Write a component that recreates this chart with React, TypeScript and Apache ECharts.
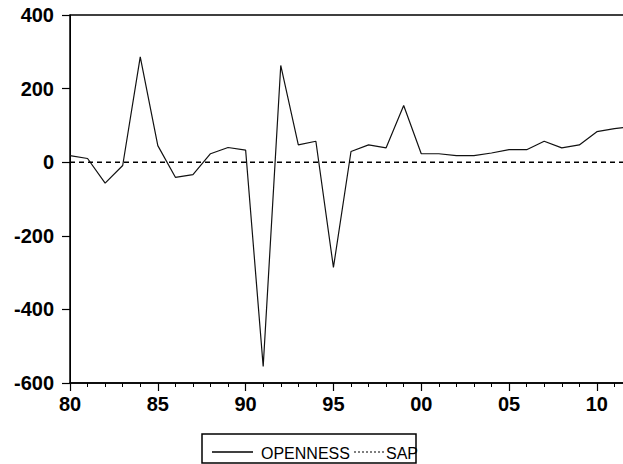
import React, { useEffect, useRef } from "react";
import * as echarts from "echarts";

const years = [
  1980, 1981, 1982, 1983, 1984, 1985, 1986, 1987, 1988, 1989,
  1990, 1991, 1992, 1993, 1994, 1995, 1996, 1997, 1998, 1999,
  2000, 2001, 2002, 2003, 2004, 2005, 2006, 2007, 2008, 2009,
  2010, 2011, 2012,
];
const openness = [
  18, 10, -57, -9, 286, 45, -41, -34, 23, 40,
  33, -555, 263, 47, 57, -286, 29, 47, 39, 154,
  23, 23, 18, 18, 25, 34, 34, 57, 39, 47,
  83, 91, 97,
];
const sap = [
  0, 0, 0, 0, 0, 0, 0, 0, 0, 0,
  0, 0, 0, 0, 0, 0, 0, 0, 0, 0,
  0, 0, 0, 0, 0, 0, 0, 0, 0, 0,
  0, 0, 0,
];
const yTicks = [-600, -400, -200, 0, 200, 400];
const legendNames = ["OPENNESS", "SAP"];

export default function App() {
  const ref = useRef<HTMLDivElement>(null);
  useEffect(() => {
    if (!ref.current) return;
    const chart = echarts.init(ref.current, null, { renderer: "svg" });
    const font = "'Liberation Sans', Arial, sans-serif";
    chart.setOption({
      animation: false,
      backgroundColor: "#fff",
      grid: {
        left: 70,
        top: 15,
        bottom: 81,
        right: 28,
        show: true,
        borderColor: "#000",
        borderWidth: 1.5,
      },
      xAxis: {
        type: "value",
        min: 1980,
        max: 2012,
        interval: 5,
        axisLine: { show: true, onZero: false, lineStyle: { color: "#000", width: 1.5 } },
        axisTick: { show: true, length: 8, lineStyle: { color: "#000", width: 1.2 } },
        minorTick: { show: true, splitNumber: 5, length: 4, lineStyle: { color: "#000", width: 1 } },
        splitLine: { show: false },
        axisLabel: {
          margin: 11,
          color: "#000",
          fontFamily: font,
          fontWeight: "bold",
          fontSize: 20,
          showMaxLabel: false,
          formatter: (v: number) => String(v % 100).padStart(2, "0"),
        },
      },
      yAxis: {
        type: "value",
        min: yTicks[0],
        max: yTicks[yTicks.length - 1],
        interval: 200,
        axisLine: { show: true, onZero: false, lineStyle: { color: "#000", width: 1 } },
        axisTick: { show: true, length: 8, lineStyle: { color: "#000", width: 1.2 } },
        splitLine: { show: false },
        axisLabel: {
          margin: 16,
          color: "#000",
          fontFamily: font,
          fontWeight: "bold",
          fontSize: 20,
        },
      },
      graphic: [
        {
          type: "rect",
          shape: { x: 202, y: 434, width: 214, height: 29 },
          style: { fill: "#fff", stroke: "#000", lineWidth: 1.5 },
        },
        {
          type: "line",
          shape: { x1: 212, y1: 452, x2: 253, y2: 452 },
          style: { stroke: "#000", lineWidth: 1.5 },
        },
        {
          type: "text",
          x: 261,
          y: 453,
          style: {
            text: legendNames[0],
            fill: "#000",
            font: "16px 'Liberation Sans', Arial, sans-serif",
            textVerticalAlign: "middle",
          },
        },
        {
          type: "line",
          shape: { x1: 354, y1: 452, x2: 384, y2: 452 },
          style: { stroke: "#000", lineWidth: 1.2, lineDash: [2, 2] },
        },
        {
          type: "text",
          x: 386,
          y: 453,
          style: {
            text: legendNames[1],
            fill: "#000",
            font: "16px 'Liberation Sans', Arial, sans-serif",
            textVerticalAlign: "middle",
          },
        },
      ],
      series: [
        {
          name: "OPENNESS",
          type: "line",
          data: years.map((y, i) => [y, openness[i]]),
          symbol: "none",
          lineStyle: { color: "#111", width: 1.2 },
          itemStyle: { color: "#111" },
        },
        {
          name: "SAP",
          type: "line",
          data: years.map((y, i) => [y, sap[i]]),
          symbol: "none",
          lineStyle: { color: "#000", width: 1.6, type: [5, 4] },
          itemStyle: { color: "#000" },
        },
      ],
    });
    return () => chart.dispose();
  }, []);
  return (
    <div style={{ position: "absolute", left: 0, top: 0, width: 623, height: 464, overflow: "hidden" }}>
      <div ref={ref} style={{ width: 660, height: 464 }} />
    </div>
  );
}
